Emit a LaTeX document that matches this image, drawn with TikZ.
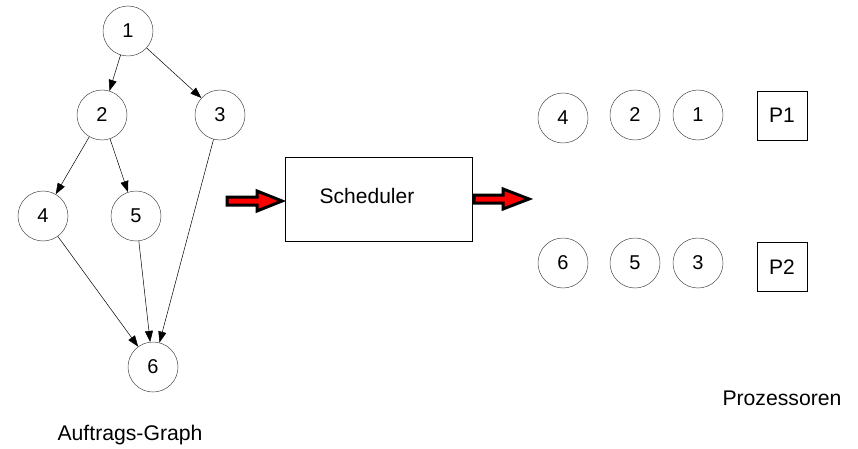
\documentclass[tikz,border=0pt]{standalone}
\usepackage{fontspec}
\setmainfont{Liberation Sans}
\usetikzlibrary{arrows.meta}
\begin{document}
\begin{tikzpicture}[x=1pt,y=-1pt,
  job/.style={circle,draw=black!70,line width=0.5pt,minimum size=50pt,inner sep=0pt,font=\fontsize{20}{20}\selectfont},
  proc/.style={rectangle,draw=black,line width=0.7pt,minimum width=50pt,minimum height=49pt,inner sep=0pt,font=\fontsize{21}{21}\selectfont},
  edge/.style={line width=0.5pt,-{Triangle[length=11pt,width=8pt]}},
  label/.style={font=\fontsize{21.2}{21.2}\selectfont},
  bigarrow/.style={draw=black,fill=red,line width=3pt,miter limit=10}]
\useasboundingbox (0,0) rectangle (858,449);
% graph
\node[job] (g1) at (128,31) {1};
\node[job] (g2) at (102,115) {2};
\node[job] (g3) at (220,115) {3};
\node[job] (g4) at (43,216) {4};
\node[job] (g5) at (136,216) {5};
\node[job] (g6) at (153,367) {6};
\draw[edge] (g1) -- (g2);
\draw[edge] (g1) -- (g3);
\draw[edge] (g2) -- (g4);
\draw[edge] (g2) -- (g5);
\draw[edge] (g4) -- (g6);
\draw[edge] (g5) -- (g6);
\draw[edge] (g3) -- (g6);
\node[label] (lg) at (130,435) {Auftrags-Graph};
% scheduler
\node[draw=black,line width=0.7pt,minimum width=187pt,minimum height=84pt,inner sep=0pt] (sch) at (378.5,199) {};
\node[font=\fontsize{21}{21}\selectfont] (scht) at (367,196) {Scheduler};
% red arrows
\draw[bigarrow] (227,197) -- (257,197) -- (257,191) -- (282,201) -- (257,211) -- (257,205) -- (227,205) -- cycle;
\draw[bigarrow] (474,195) -- (503,195) -- (503,189) -- (529,199) -- (503,209) -- (503,203) -- (474,203) -- cycle;
% processors
\node[job] (p4) at (563,118) {4};
\node[job] (p2) at (635,115) {2};
\node[job] (p1) at (698,115) {1};
\node[proc] (P1) at (782,115.5) {P1};
\node[job] (p6) at (563,263) {6};
\node[job] (p5) at (635,263) {5};
\node[job] (p3) at (698,263) {3};
\node[proc] (P2) at (782,267) {P2};
\node[label] (lp) at (782,398) {Prozessoren};
\end{tikzpicture}
\end{document}
